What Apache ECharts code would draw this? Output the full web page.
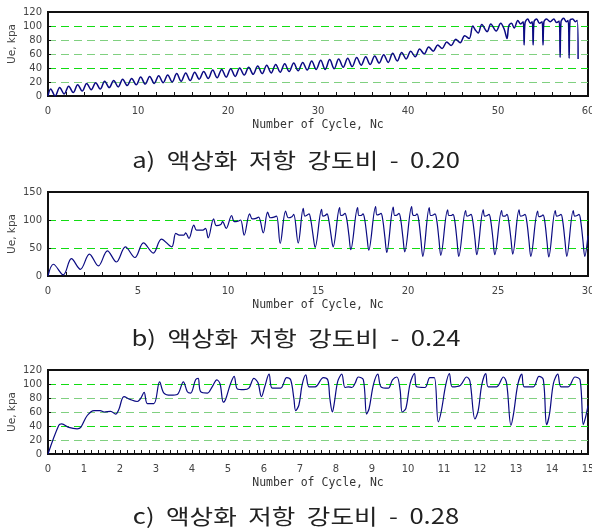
<!DOCTYPE html>
<html>
<head>
<meta charset="utf-8">
<script src="https://cdn.jsdelivr.net/npm/echarts@6/dist/echarts.min.js"></script>
<style>html,body{margin:0;padding:0;background:#fff}#c{width:592px;height:528px}</style>
</head>
<body>
<div id="c"></div>
<script>
// ---------- data (Nc, Ue kPa) ----------
const captions = ['a)  액상화  저항  강도비  -  0.20', 'b)  액상화  저항  강도비  -  0.24', 'c)  액상화  저항  강도비  -  0.28'];
const xName = 'Number of Cycle, Nc';
const yName = 'Ue, kpa';

const xTicksA = {min: 0, max: 60, step: 10};
const xTicksB = {min: 0, max: 30, step: 5};
const xTicksC = {min: 0, max: 15, step: 1};
const yTicksA = {min: 0, max: 120, step: 20};
const yTicksB = {min: 0, max: 150, step: 50};
const yTicksC = {min: 0, max: 120, step: 20};

const refLinesA = [20, 40, 60, 80, 100];
const refStrongA = [40, 100];
const refLinesB = [50, 100];
const refStrongB = [50, 100];
const refLinesC = [20, 40, 60, 80, 100];
const refStrongC = [40, 100];

const curveA = [
 [0,0],[0.3,10],[0.8,0],[1.3,12],[1.8,3],[2.3,14],[2.8,5],[3.3,16],[3.8,7],[4.3,18],[4.8,9],
 [5.3,19],[5.8,10],[6.3,21],[6.8,12],[7.3,22],[7.8,13],[8.3,24],[8.8,15],[9.3,25],[9.8,16],
 [10.3,27],[10.8,17],[11.3,28],[11.8,18],[12.3,29],[12.8,19],[13.3,30],[13.8,20],[14.3,32],[14.8,21],
 [15.3,33],[15.8,22],[16.3,34],[16.8,24],[17.3,35],[17.8,25],[18.3,37],[18.8,26],[19.3,38],[19.8,27],
 [20.3,39],[20.8,28],[21.3,40],[21.8,30],[22.3,41],[22.8,31],[23.3,43],[23.8,32],[24.3,44],[24.8,33],
 [25.3,45],[25.8,34],[26.3,46],[26.8,35],[27.3,47],[27.8,36],[28.3,48],[28.8,37],[29.3,50],[29.8,38],
 [30.3,51],[30.8,38],[31.3,52],[31.8,39],[32.3,53],[32.8,41],[33.3,54],[33.8,42],[34.3,55],[34.8,44],
 [35.3,56],[35.8,45],[36.3,57],[36.8,47],[37.3,59],[37.8,48],[38.3,61],[38.8,50],[39.3,62],[39.8,53],
 [40.3,64],[40.8,56],[41.3,67],[41.8,60],[42.3,70],[42.8,64],[43.3,73],[43.8,68],[44.3,77],[44.8,72],
 [45.3,81],[45.8,76],[46.3,86],[46.8,82],[47.2,100],[47.5,94],[47.8,90],[48.2,102],[48.8,92],
 [49.2,103],[49.8,93],[50.3,104],[50.7,95],[51.0,82],[51.2,100],[51.5,104],[51.8,97],
 [52.2,108],[52.5,103],[52.8,106],[52.9,73],[53.0,104],
 [53.3,110],[53.6,104],[53.8,106],[53.9,73],[54.0,106],
 [54.3,110],[54.6,104],[54.9,106],[55.0,73],[55.1,106],
 [55.4,110],[55.8,106],[56.2,110],[56.5,105],[56.8,107],[56.9,55],[57.0,106],
 [57.3,111],[57.6,106],[57.8,108],[57.9,54],[58.0,108],
 [58.3,110],[58.6,106],[58.8,108],[58.9,53]
];

const curveB = [
 [0,0],[0.3,21],[0.85,2],[1.3,31],[1.8,12],[2.3,39],[2.8,18],[3.3,45],[3.8,25],
 [4.3,52],[4.83,33],[5.3,59],[5.85,41],[6.3,66],[6.87,52],
 [7.1,76],[7.3,73],[7.55,73],[7.65,77],[7.83,67],
 [8.1,91],[8.25,82],[8.6,82],[8.75,85],[8.9,68],
 [9.2,102],[9.35,90],[9.6,92],[9.7,97],[9.9,85],
 [10.2,108],[10.35,97],[10.55,98],[10.7,100],[10.9,73],
 [11.2,111],[11.35,102],[11.55,103],[11.7,105],[11.96,77],
 [12.2,114],[12.35,104],[12.55,105],[12.7,107],[12.9,58],
 [13.2,116],[13.35,104],[13.55,106],[13.65,110],[13.9,59],
 [14.18,121],[14.27,107],[14.4,109],[14.5,111],[14.6,100],[14.72,74],[14.84,51],
 [15.2,119],[15.27,107],[15.4,108],[15.5,111],[15.6,100],[15.72,74],[15.84,52],
 [16.2,122],[16.27,108],[16.4,109],[16.5,112],[16.6,101],[16.72,72],[16.82,47],
 [17.2,122],[17.27,108],[17.4,108],[17.5,111],[17.6,100],[17.72,70],[17.82,46],
 [18.2,124],[18.27,109],[18.4,110],[18.5,112],[18.6,100],[18.72,68],[18.82,42],
 [19.18,123],[19.26,108],[19.4,109],[19.5,112],[19.6,100],[19.72,68],[19.82,43],
 [20.2,124],[20.27,109],[20.4,108],[20.5,111],[20.6,99],[20.72,64],[20.82,35],
 [21.18,122],[21.26,108],[21.4,109],[21.5,111],[21.6,99],[21.72,65],[21.82,37],
 [22.2,118],[22.27,108],[22.4,108],[22.5,110],[22.6,98],[22.72,64],[22.82,35],
 [23.2,117],[23.27,107],[23.4,108],[23.5,110],[23.6,98],[23.72,66],[23.82,38],
 [24.18,118],[24.26,107],[24.4,108],[24.5,110],[24.6,98],[24.72,66],[24.82,38],
 [25.2,117],[25.27,107],[25.4,107],[25.5,110],[25.6,97],[25.72,66],[25.82,39],
 [26.17,118],[26.25,107],[26.4,108],[26.5,110],[26.6,97],[26.72,63],[26.82,35],
 [27.2,116],[27.27,106],[27.4,107],[27.5,109],[27.6,97],[27.72,62],[27.82,34],
 [28.18,117],[28.26,107],[28.4,108],[28.5,110],[28.6,97],[28.72,63],[28.82,35],
 [29.18,117],[29.26,107],[29.4,108],[29.5,110],[29.6,97],[29.72,63],[29.82,35],
 [30,72]
];

const curveC = [
 [0,0],[0.3,41],[0.38,43],[0.58,38],[0.81,36],[0.91,38],[1.09,55],[1.28,62],[1.45,62],[1.56,60],
 [1.74,61],[1.88,57],[1.97,64],[2.11,82],[2.28,78],[2.48,75],[2.57,79],[2.67,88],[2.76,72],[2.94,72],
 [3.1,103],[3.22,87],[3.41,84],[3.59,85],[3.76,103],[3.87,89],[3.96,87],[4.1,106],[4.17,108],[4.24,89],
 [4.43,87],[4.56,96],[4.69,106],[4.78,100],[4.87,74],[4.94,79],[5.06,99],[5.17,111],[5.26,93],[5.44,92],
 [5.58,94],[5.72,108],[5.83,102],[5.93,82],[6.02,96],[6.14,114],[6.23,94],[6.46,94],[6.63,109],[6.74,106],
 [6.83,79],[6.88,62],[6.97,70],[7.06,99],[7.16,113],[7.25,96],[7.42,96],[7.65,109],[7.77,106],[7.83,79],
 [7.9,60],[7.95,72],[8.05,104],[8.16,114],[8.25,95],[8.34,96],[8.44,95],[8.53,101],[8.62,110],[8.76,106],
 [8.85,57],[8.92,65],[9.04,99],[9.16,114],[9.25,96],[9.45,94],[9.57,106],[9.69,110],[9.78,92],[9.84,60],
 [9.94,65],[10.06,101],[10.18,115],[10.24,96],[10.47,95],[10.61,109],[10.73,109],[10.84,46],[10.92,60],
 [11.05,99],[11.15,115],[11.23,96],[11.45,98],[11.63,110],[11.72,104],[11.86,50],[11.95,62],[12.05,99],
 [12.16,115],[12.23,96],[12.46,96],[12.65,110],[12.74,101],[12.86,41],[12.93,57],[13.05,99],[13.16,114],
 [13.23,96],[13.48,96],[13.64,111],[13.76,106],[13.85,42],[13.93,57],[14.04,101],[14.16,114],[14.25,96],
 [14.45,96],[14.64,110],[14.78,106],[14.87,42],[14.94,54],[15,69]
];

// ---------- chart ----------
const GREEN = '#12dc12', LIGHT = '#80d080', NAVY = '#0a0a82';
const grids = [
  {left: 48, top: 12, width: 540, height: 84},
  {left: 48, top: 192, width: 540, height: 84},
  {left: 48, top: 370, width: 540, height: 84}
];
const xT = [xTicksA, xTicksB, xTicksC], yT = [yTicksA, yTicksB, yTicksC];
const curves = [curveA, curveB, curveC];
const refs = [[refLinesA, refStrongA], [refLinesB, refStrongB], [refLinesC, refStrongC]];
const capY = [160, 338, 516];
const yNamePad = [[0,0,0,20],[0,0,0,0],[0,0,0,0]];
const lineW = [1.5, 1.2, 1.2];

function splitColors(t, lines, strong) {
  const out = [];
  for (let v = t.min; v <= t.max + 1e-9; v += t.step) {
    out.push(lines.includes(v) ? (strong.includes(v) ? GREEN : LIGHT) : 'rgba(0,0,0,0)');
  }
  return out;
}

const option = {
  animation: false,
  backgroundColor: '#fff',
  grid: grids.map(g => Object.assign({show: true, borderColor: '#111', borderWidth: 2, backgroundColor: '#fff',
    containLabel: false, outerBoundsMode: 'none'}, g)),
  xAxis: xT.map((t, i) => ({
    gridIndex: i, type: 'value', min: t.min, max: t.max, interval: t.step,
    axisLine: {show: false},
    axisTick: {show: true, inside: true, length: 4, lineStyle: {color: '#111'}},
    minorTick: {show: true, splitNumber: 5, length: 4, lineStyle: {color: '#111'}},
    splitLine: {show: false},
    axisLabel: {fontSize: 10, color: '#444', margin: 10, fontFamily: 'DejaVu Sans'},
    name: xName, nameLocation: 'middle', nameGap: 23, nameMoveOverlap: false,
    nameTextStyle: {fontFamily: 'DejaVu Sans Mono', fontSize: 11.5, color: '#333'}
  })),
  yAxis: yT.map((t, i) => ({
    gridIndex: i, type: 'value', min: t.min, max: t.max, interval: t.step,
    axisLine: {show: false},
    axisTick: {show: true, inside: true, length: 3, lineStyle: {color: '#111'}},
    splitLine: {show: true, lineStyle: {color: splitColors(t, refs[i][0], refs[i][1]), type: [8, 5], width: 1}},
    axisLabel: {fontSize: 10, color: '#444', margin: 6, fontFamily: 'DejaVu Sans'},
    name: yName, nameLocation: 'middle', nameGap: 30, nameRotate: 90, nameMoveOverlap: false,
    nameTextStyle: {fontFamily: 'DejaVu Sans', fontSize: 10.5, color: '#444', padding: yNamePad[i]}
  })),
  series: curves.map((d, i) => ({
    type: 'line', xAxisIndex: i, yAxisIndex: i, data: d,
    showSymbol: false, smooth: 0.35, z: 5,
    lineStyle: {color: NAVY, width: lineW[i]}
  })),
  graphic: captions.map((c, i) => ({
    type: 'text', x: 296, y: capY[i], scaleX: 1.22,
    style: {text: c, align: 'center', verticalAlign: 'middle',
      font: '21px "Noto Sans CJK KR"', fill: '#222'}
  }))
};
const chart = echarts.init(document.getElementById('c'), null, {renderer: 'canvas'});
chart.setOption(option);
</script>
</body>
</html>
